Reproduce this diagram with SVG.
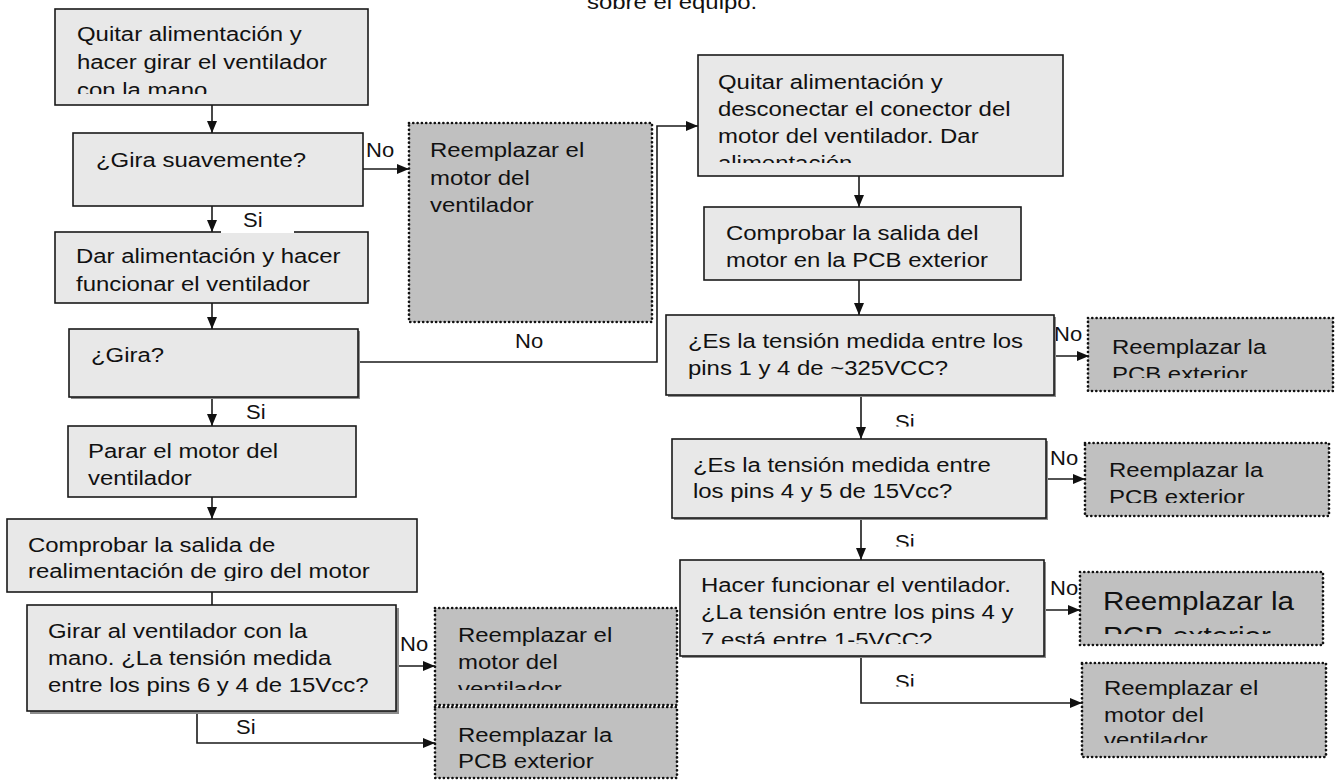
<svg xmlns="http://www.w3.org/2000/svg" width="1341" height="780" viewBox="0 0 1341 780">
  <style>
    .box { fill: #e8e8e8; stroke: #1a1a1a; stroke-width: 1.6; }
    .sh { fill: #8c8c8c; }
    .dot { fill: #c0c0c0; stroke: #111; stroke-width: 2.7; stroke-dasharray: 0 4.3; stroke-linecap: round; }
    .t { font-family: "Liberation Sans", Arial, sans-serif; font-size: 21px; fill: #111; }
    .big { font-size: 26px; }
    .lbl { font-family: "Liberation Sans", Arial, sans-serif; font-size: 20px; fill: #111; }
    .ln { fill: none; stroke: #1a1a1a; stroke-width: 1.6; }
  </style>
  <defs>
    <marker id="ah" markerWidth="12" markerHeight="10" refX="12" refY="5" orient="auto" markerUnits="userSpaceOnUse">
      <path d="M0,0 L12,5 L0,10 z" fill="#111"/>
    </marker>
    <clipPath id="c-b1"><rect x="0" y="0" width="1341" height="94"/></clipPath>
    <clipPath id="c-b6"><rect x="0" y="500" width="1341" height="81"/></clipPath>
    <clipPath id="c-g"><rect x="0" y="600" width="1341" height="90"/></clipPath>
    <clipPath id="c-a"><rect x="0" y="60" width="1341" height="103"/></clipPath>
    <clipPath id="c-cp"><rect x="0" y="320" width="1341" height="58"/></clipPath>
    <clipPath id="c-dp"><rect x="0" y="440" width="1341" height="63"/></clipPath>
    <clipPath id="c-e"><rect x="0" y="560" width="1341" height="84"/></clipPath>
    <clipPath id="c-ep"><rect x="0" y="575" width="1341" height="59"/></clipPath>
    <clipPath id="c-f"><rect x="0" y="665" width="1341" height="78"/></clipPath>
    <clipPath id="c-si"><rect x="0" y="400" width="1341" height="26.5"/><rect x="0" y="520" width="1341" height="26.5"/><rect x="0" y="660" width="1341" height="26.5"/></clipPath>
  </defs>

  <rect width="1341" height="780" fill="#ffffff"/>

  <!-- heading fragment -->
  <text class="t" transform="translate(587,9) scale(1.14,1)">sobre el equipo.</text>

  <!-- connectors -->
  <g id="connectors">
    <line class="ln" x1="212" y1="105" x2="212" y2="133" marker-end="url(#ah)"/>
    <line class="ln" x1="363" y1="169" x2="409" y2="169" marker-end="url(#ah)"/>
    <line class="ln" x1="212" y1="206" x2="212" y2="232" marker-end="url(#ah)"/>
    <line class="ln" x1="212" y1="303" x2="212" y2="329" marker-end="url(#ah)"/>
    <line class="ln" x1="212" y1="397" x2="212" y2="426" marker-end="url(#ah)"/>
    <line class="ln" x1="212" y1="497" x2="212" y2="519" marker-end="url(#ah)"/>
    <line class="ln" x1="212" y1="592" x2="212" y2="605"/>
    <line class="ln" x1="396" y1="666" x2="435" y2="666" marker-end="url(#ah)"/>
    <path class="ln" d="M197,711 V743 H435" marker-end="url(#ah)"/>
    <path class="ln" d="M358,362 H657 V126 H698" marker-end="url(#ah)"/>
    <line class="ln" x1="859" y1="176" x2="859" y2="207" marker-end="url(#ah)"/>
    <line class="ln" x1="859" y1="280" x2="859" y2="315" marker-end="url(#ah)"/>
    <line class="ln" x1="1054" y1="356" x2="1089" y2="356" marker-end="url(#ah)"/>
    <line class="ln" x1="861" y1="395" x2="861" y2="439" marker-end="url(#ah)"/>
    <line class="ln" x1="1046" y1="479" x2="1085" y2="479" marker-end="url(#ah)"/>
    <line class="ln" x1="861" y1="518" x2="861" y2="560" marker-end="url(#ah)"/>
    <line class="ln" x1="1044" y1="610" x2="1080" y2="610" marker-end="url(#ah)"/>
    <path class="ln" d="M861,656 V703 H1082" marker-end="url(#ah)"/>

    <!-- branch labels -->
    <text class="lbl" transform="translate(366,157) scale(1.1,1)">No</text>
    <text class="lbl" transform="translate(515,348) scale(1.1,1)">No</text>
    <text class="lbl" transform="translate(400,651) scale(1.1,1)">No</text>
    <text class="lbl" transform="translate(1054,341) scale(1.1,1)">No</text>
    <text class="lbl" transform="translate(1050,465) scale(1.1,1)">No</text>
    <text class="lbl" transform="translate(1050,595) scale(1.1,1)">No</text>
    <text class="lbl" transform="translate(246,419) scale(1.1,1)">Si</text>
    <text class="lbl" transform="translate(236,734) scale(1.1,1)">Si</text>
    <g clip-path="url(#c-si)">
      <text class="lbl" transform="translate(895,429) scale(1.1,1)">Si</text>
      <text class="lbl" transform="translate(895,549) scale(1.1,1)">Si</text>
      <text class="lbl" transform="translate(895,689) scale(1.1,1)">Si</text>
    </g>
  </g>

  <!-- left column -->
  <g id="n-quitar-girar">
    <rect class="box" x="55" y="9" width="313" height="96"/>
    <g clip-path="url(#c-b1)">
      <text class="t" transform="translate(77,41) scale(1.14,1)"><tspan x="0" y="0">Quitar alimentación y</tspan><tspan x="0" y="28">hacer girar el ventilador</tspan><tspan x="0" y="56">con la mano</tspan></text>
    </g>
  </g>

  <g id="n-gira-suave">
    <rect class="box" x="73" y="133" width="290" height="73"/>
    <text class="t" transform="translate(96,167) scale(1.14,1)">¿Gira suavemente?</text>
  </g>

  <g id="n-reemplazar-motor-1">
    <rect class="dot" x="409" y="123" width="243" height="199"/>
    <text class="t" transform="translate(430,157) scale(1.14,1)"><tspan x="0" y="0">Reemplazar el</tspan><tspan x="0" y="28">motor del</tspan><tspan x="0" y="55">ventilador</tspan></text>
  </g>

  <g id="n-dar-alimentacion">
    <rect class="box" x="55" y="232" width="313" height="71"/>
    <rect x="221" y="210" width="73" height="23" fill="#ffffff"/>
    <text class="lbl" transform="translate(243,227) scale(1.1,1)">Si</text>
    <text class="t" transform="translate(76,263) scale(1.14,1)"><tspan x="0" y="0">Dar alimentación y hacer</tspan><tspan x="0" y="28">funcionar el ventilador</tspan></text>
  </g>

  <g id="n-gira">
    <rect class="sh" x="71" y="331" width="289" height="68"/>
    <rect class="box" x="69" y="329" width="289" height="68"/>
    <text class="t" transform="translate(91,362) scale(1.14,1)">¿Gira?</text>
  </g>

  <g id="n-parar">
    <rect class="box" x="68" y="426" width="288" height="71"/>
    <text class="t" transform="translate(88,458) scale(1.14,1)"><tspan x="0" y="0">Parar el motor del</tspan><tspan x="0" y="27">ventilador</tspan></text>
  </g>

  <g id="n-comprobar-realimentacion">
    <rect class="box" x="7" y="519" width="410" height="73"/>
    <g clip-path="url(#c-b6)">
      <text class="t" transform="translate(28,552) scale(1.14,1)"><tspan x="0" y="0">Comprobar la salida de</tspan><tspan x="0" y="26">realimentación de giro del motor</tspan></text>
    </g>
  </g>

  <g id="n-girar-mano">
    <rect class="sh" x="30" y="608" width="369" height="106"/>
    <rect class="box" x="27" y="605" width="369" height="106"/>
    <text class="t" transform="translate(48,638) scale(1.14,1)"><tspan x="0" y="0">Girar al ventilador con la</tspan><tspan x="0" y="27">mano. ¿La tensión medida</tspan><tspan x="0" y="54">entre los pins 6 y 4 de 15Vcc?</tspan></text>
  </g>

  <g id="n-reemplazar-motor-2">
    <rect class="dot" x="435" y="608" width="242" height="97"/>
    <g clip-path="url(#c-g)">
      <text class="t" transform="translate(458,642) scale(1.14,1)"><tspan x="0" y="0">Reemplazar el</tspan><tspan x="0" y="27">motor del</tspan><tspan x="0" y="54">ventilador</tspan></text>
    </g>
  </g>

  <g id="n-reemplazar-pcb-1">
    <rect class="dot" x="435" y="707" width="242" height="71"/>
    <text class="t" transform="translate(458,742) scale(1.14,1)"><tspan x="0" y="0">Reemplazar la</tspan><tspan x="0" y="26">PCB exterior</tspan></text>
  </g>

  <!-- right column -->
  <g id="n-desconectar">
    <rect class="box" x="698" y="55" width="365" height="121"/>
    <g clip-path="url(#c-a)">
      <text class="t" transform="translate(718,89) scale(1.14,1)"><tspan x="0" y="0">Quitar alimentación y</tspan><tspan x="0" y="27">desconectar el conector del</tspan><tspan x="0" y="54">motor del ventilador. Dar</tspan><tspan x="0" y="81">alimentación</tspan></text>
    </g>
  </g>

  <g id="n-comprobar-motor">
    <rect class="box" x="704" y="207" width="317" height="73"/>
    <text class="t" transform="translate(726,240) scale(1.14,1)"><tspan x="0" y="0">Comprobar la salida del</tspan><tspan x="0" y="27">motor en la PCB exterior</tspan></text>
  </g>

  <g id="n-tension-325">
    <rect class="sh" x="668" y="317" width="388" height="80"/>
    <rect class="box" x="666" y="315" width="388" height="80"/>
    <text class="t" transform="translate(688,348) scale(1.14,1)"><tspan x="0" y="0">¿Es la tensión medida entre los</tspan><tspan x="0" y="27">pins 1 y 4 de ~325VCC?</tspan></text>
  </g>

  <g id="n-reemplazar-pcb-2">
    <rect class="dot" x="1088" y="318" width="245" height="73"/>
    <g clip-path="url(#c-cp)">
      <text class="t" transform="translate(1112,354) scale(1.14,1)"><tspan x="0" y="0">Reemplazar la</tspan><tspan x="0" y="27">PCB exterior</tspan></text>
    </g>
  </g>

  <g id="n-tension-15">
    <rect class="sh" x="674" y="441" width="374" height="79"/>
    <rect class="box" x="672" y="439" width="374" height="79"/>
    <text class="t" transform="translate(693,472) scale(1.14,1)"><tspan x="0" y="0">¿Es la tensión medida entre</tspan><tspan x="0" y="26">los pins 4 y 5 de 15Vcc?</tspan></text>
  </g>

  <g id="n-reemplazar-pcb-3">
    <rect class="dot" x="1085" y="443" width="244" height="73"/>
    <g clip-path="url(#c-dp)">
      <text class="t" transform="translate(1109,477) scale(1.14,1)"><tspan x="0" y="0">Reemplazar la</tspan><tspan x="0" y="27">PCB exterior</tspan></text>
    </g>
  </g>

  <g id="n-hacer-funcionar">
    <rect class="sh" x="682" y="562" width="364" height="96"/>
    <rect class="box" x="680" y="560" width="364" height="96"/>
    <g clip-path="url(#c-e)">
      <text class="t" transform="translate(701,592) scale(1.14,1)"><tspan x="0" y="0">Hacer funcionar el ventilador.</tspan><tspan x="0" y="27">¿La tensión entre los pins 4 y</tspan><tspan x="0" y="55">7 está entre 1-5VCC?</tspan></text>
    </g>
  </g>

  <g id="n-reemplazar-pcb-4">
    <rect class="dot" x="1080" y="572" width="243" height="73"/>
    <g clip-path="url(#c-ep)">
      <text class="t big" transform="translate(1103,610) scale(1.14,1)"><tspan x="0" y="0">Reemplazar la</tspan><tspan x="0" y="35">PCB exterior</tspan></text>
    </g>
  </g>

  <g id="n-reemplazar-motor-3">
    <rect class="dot" x="1082" y="663" width="244" height="94"/>
    <g clip-path="url(#c-f)">
      <text class="t" transform="translate(1104,695) scale(1.14,1)"><tspan x="0" y="0">Reemplazar el</tspan><tspan x="0" y="27">motor del</tspan><tspan x="0" y="52">ventilador</tspan></text>
    </g>
  </g>
</svg>
